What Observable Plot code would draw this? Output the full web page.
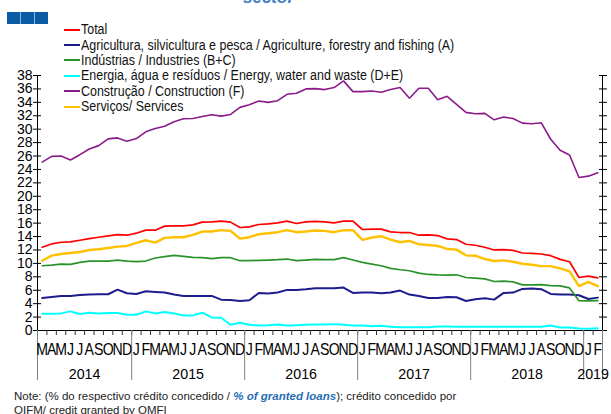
<!DOCTYPE html>
<html><head><meta charset="utf-8">
<script src="https://cdn.jsdelivr.net/npm/d3@7"></script>
<script src="https://cdn.jsdelivr.net/npm/@observablehq/plot@0.6"></script>
<style>
body{margin:0;background:#fff;font-family:"Liberation Sans",Arial,sans-serif;}
#wrap{position:relative;width:611px;height:414px;overflow:hidden;background:#fff}
#title{position:absolute;left:243px;top:-11px;font-size:17px;line-height:17px;font-weight:bold;font-style:italic;color:#3f7fc0;}
#squares{position:absolute;left:7px;top:12px;height:12px;display:flex;gap:1px;background:#8fb4d9;}
#squares span{display:block;width:13px;height:12px;background:#0b5ca6;}
#chart{position:absolute;left:0;top:0;}
#legend{position:absolute;left:64px;top:22px;}
#legend .row{height:15.4px;display:flex;align-items:center;white-space:nowrap;}
#legend .sw{width:16px;height:2px;margin-right:1px;}
#legend .lab{display:inline-block;font-size:14px;line-height:15px;color:#111;transform:scaleX(0.89);transform-origin:left center;}
#note{position:absolute;left:14px;top:389px;font-size:11.5px;line-height:14px;color:#222;white-space:nowrap;}
#note b{color:#1f6db5;}
</style></head><body>
<div id="wrap">
  <div id="title">sector</div>
  <div id="squares"><span></span><span></span><span></span></div>
  <div id="chart"></div>
  <div id="legend"></div>
  <div id="note">Note: (% do respectivo crédito concedido / <b><i>% of granted loans</i></b>); crédito concedido por<br>OIFM/ credit granted by OMFI</div>
</div>
<script>
// Months: March 2014 to February 2019
const firstMonth = new Date(Date.UTC(2014, 2, 1));
const endMonth = new Date(Date.UTC(2019, 2, 1));

const seriesNames = [
  "Total",
  "Agricultura, silvicultura e pesca / Agriculture, forestry and fishing (A)",
  "Indústrias / Industries (B+C)",
  "Energia, água e resíduos / Energy, water and waste (D+E)",
  "Construção / Construction  (F)",
  "Serviços/ Services"
];
const seriesColors = ["#ff0000", "#1c1c8c", "#2a922a", "#00ffff", "#8b1a8b", "#ffc000"];
const seriesWidths = [1.7, 2, 1.7, 2, 1.6, 2.4];

const total = [
  12.4,12.9,13.15,13.2,13.45,13.7,13.9,14.1,14.3,14.2,
  14.5,14.95,14.95,15.55,15.6,15.6,15.75,16.15,16.2,16.3,
  16.15,15.35,15.45,15.8,15.9,16.05,16.3,15.95,16.2,16.25,
  16.2,16.05,16.3,16.3,15.05,15.1,15.1,14.7,14.6,14.6,
  14.2,14.25,14.15,13.65,13.55,12.85,12.7,12.4,12.0,12.05,
  11.95,11.55,11.5,11.4,11.15,10.6,10.25,7.9,8.1,7.85
];
const agriculture = [
  4.85,5.0,5.15,5.15,5.3,5.35,5.4,5.4,6.1,5.55,
  5.45,5.85,5.75,5.65,5.35,5.15,5.15,5.15,5.15,4.6,
  4.55,4.4,4.5,5.6,5.5,5.65,6.05,6.05,6.15,6.3,
  6.3,6.3,6.4,5.6,5.65,5.65,5.55,5.65,5.95,5.35,
  5.15,4.85,4.85,5.0,4.95,4.4,4.65,4.8,4.6,5.6,
  5.65,6.2,6.25,6.15,5.45,5.35,5.35,5.25,4.7,4.9
];
const industries = [
  9.65,9.75,9.9,9.85,10.15,10.35,10.35,10.35,10.5,10.35,
  10.25,10.35,10.8,11.0,11.2,11.05,10.9,10.85,10.7,10.85,
  10.85,10.4,10.4,10.45,10.5,10.55,10.65,10.4,10.5,10.6,
  10.55,10.55,10.85,10.5,10.15,9.9,9.65,9.25,9.05,8.9,
  8.55,8.35,8.3,8.25,8.3,7.9,7.8,7.7,7.3,7.35,
  7.25,6.8,6.8,6.85,6.7,6.65,6.35,4.45,4.4,4.45
];
const energy = [
  2.5,2.5,2.55,2.85,2.45,2.65,2.55,2.6,2.6,2.35,
  2.35,2.85,2.55,2.75,2.55,2.25,2.25,2.65,1.95,1.9,
  0.85,1.15,0.85,0.75,0.8,0.9,0.75,0.8,0.85,0.9,
  0.9,0.95,0.85,0.75,0.75,0.65,0.7,0.55,0.5,0.5,
  0.5,0.5,0.6,0.6,0.55,0.55,0.55,0.55,0.55,0.55,
  0.55,0.55,0.55,0.55,0.75,0.45,0.45,0.3,0.25,0.35
];
const construction = [
  25.1,25.95,26.0,25.4,26.2,27.05,27.55,28.55,28.7,28.2,
  28.6,29.6,30.1,30.45,31.1,31.55,31.6,31.9,32.15,31.95,
  32.2,33.25,33.65,34.2,34.0,34.25,35.2,35.35,36.0,36.05,
  35.9,36.2,37.2,35.6,35.6,35.7,35.5,35.9,36.2,34.6,
  36.1,36.1,34.4,34.9,33.7,32.5,32.3,32.35,31.4,31.8,
  31.6,30.9,30.8,30.95,28.5,26.85,26.15,22.8,23.0,23.5
];
const services = [
  10.4,11.15,11.4,11.55,11.7,12.0,12.1,12.3,12.5,12.6,
  13.05,13.45,13.1,13.8,13.9,13.9,14.25,14.75,14.75,14.95,
  14.85,13.7,13.9,14.35,14.5,14.65,14.95,14.65,14.75,14.9,
  14.85,14.65,14.95,14.95,13.5,13.85,14.05,13.55,13.15,13.35,
  12.85,12.75,12.6,12.15,12.05,11.2,11.15,10.65,10.35,10.45,
  10.25,9.95,9.8,9.6,9.6,9.25,8.8,6.6,7.25,6.6
];
const yTicks = d3.range(0, 39, 2);

const seriesValues = [total, agriculture, industries, energy, construction, services];
const months = d3.utcMonth.range(firstMonth, endMonth);
const n = months.length;
const monthLetter = months.map(d => d3.utcFormat("%b")(d)[0]);
const yearOf = months.map(d => d.getUTCFullYear());
const yearList = Array.from(new Set(yearOf));
const yearStart = yearList.map(y => yearOf.indexOf(y));
const yearEnd = yearList.map(y => yearOf.lastIndexOf(y));
const yearCenters = yearList.map((y, k) => (yearStart[k] + yearEnd[k]) / 2);
const yearLabel = new Map(yearCenters.map((c, k) => [c, String(yearList[k])]));
const yearBounds = [...yearStart.map(s => s - 0.5), n - 0.5];
const monthBounds = d3.range(n + 1).map(i => i - 0.5);

const marks = [
  Plot.ruleX([-0.5, n - 0.5], {stroke: "#000"}),
  Plot.ruleY([0], {stroke: "#000"}),
  Plot.axisY({ticks: yTicks, tickSize: 4, tickPadding: 1, fontSize: 14, tickFormat: d => String(d), stroke: "#000", label: null}),
  Plot.axisY({ticks: yTicks, tickSize: -4, text: null, stroke: "#000", label: null}),
  Plot.axisY({anchor: "right", ticks: yTicks, tickSize: 4, text: null, stroke: "#000", label: null}),
  Plot.axisY({anchor: "right", ticks: yTicks, tickSize: -4, text: null, stroke: "#000", label: null}),
  Plot.axisX({ticks: monthBounds, tickSize: 5, text: null, stroke: "#333", label: null}),
  Plot.axisX({ticks: yearBounds, tickSize: 50, text: null, stroke: "#7f7f7f", label: null}),
  Plot.axisX({ticks: d3.range(n), tickSize: 0, tickPadding: 13, fontSize: 16, tickFormat: i => monthLetter[i], className: "mon", label: null}),
  Plot.axisX({ticks: yearCenters, tickSize: 0, tickPadding: 38, fontSize: 15, tickFormat: c => yearLabel.get(c), className: "yr", label: null})
];
seriesValues.forEach((vals, k) => {
  marks.push(Plot.line(vals.map((v, i) => ({i, v})), {x: "i", y: "v", stroke: seriesColors[k], strokeWidth: seriesWidths[k], strokeLinejoin: "miter"}));
});

const chart = Plot.plot({
  width: 611, height: 388,
  marginTop: 75, marginBottom: 58, marginLeft: 37, marginRight: 9,
  x: {type: "linear", domain: [-0.5, n - 0.5], axis: null, label: null},
  y: {domain: [0, 38], axis: null, label: null},
  style: {fontFamily: '"Liberation Sans", Arial, sans-serif', color: "#000", background: "transparent", overflow: "visible"},
  marks
});
document.getElementById("chart").appendChild(chart);

// condense month & year labels horizontally
chart.querySelectorAll("g.mon text").forEach(t => {
  t.setAttribute("transform", (t.getAttribute("transform") || "") + " scale(0.88,1)");
});
chart.querySelectorAll("g.yr text").forEach(t => {
  t.setAttribute("transform", (t.getAttribute("transform") || "") + " scale(0.95,1)");
});

const legend = document.getElementById("legend");
seriesNames.forEach((name, k) => {
  const row = document.createElement("div");
  row.className = "row";
  const sw = document.createElement("span");
  sw.className = "sw";
  sw.style.background = seriesColors[k];
  const lab = document.createElement("span");
  lab.className = "lab";
  lab.textContent = name;
  row.appendChild(sw); row.appendChild(lab);
  legend.appendChild(row);
});
</script>
</body></html>
